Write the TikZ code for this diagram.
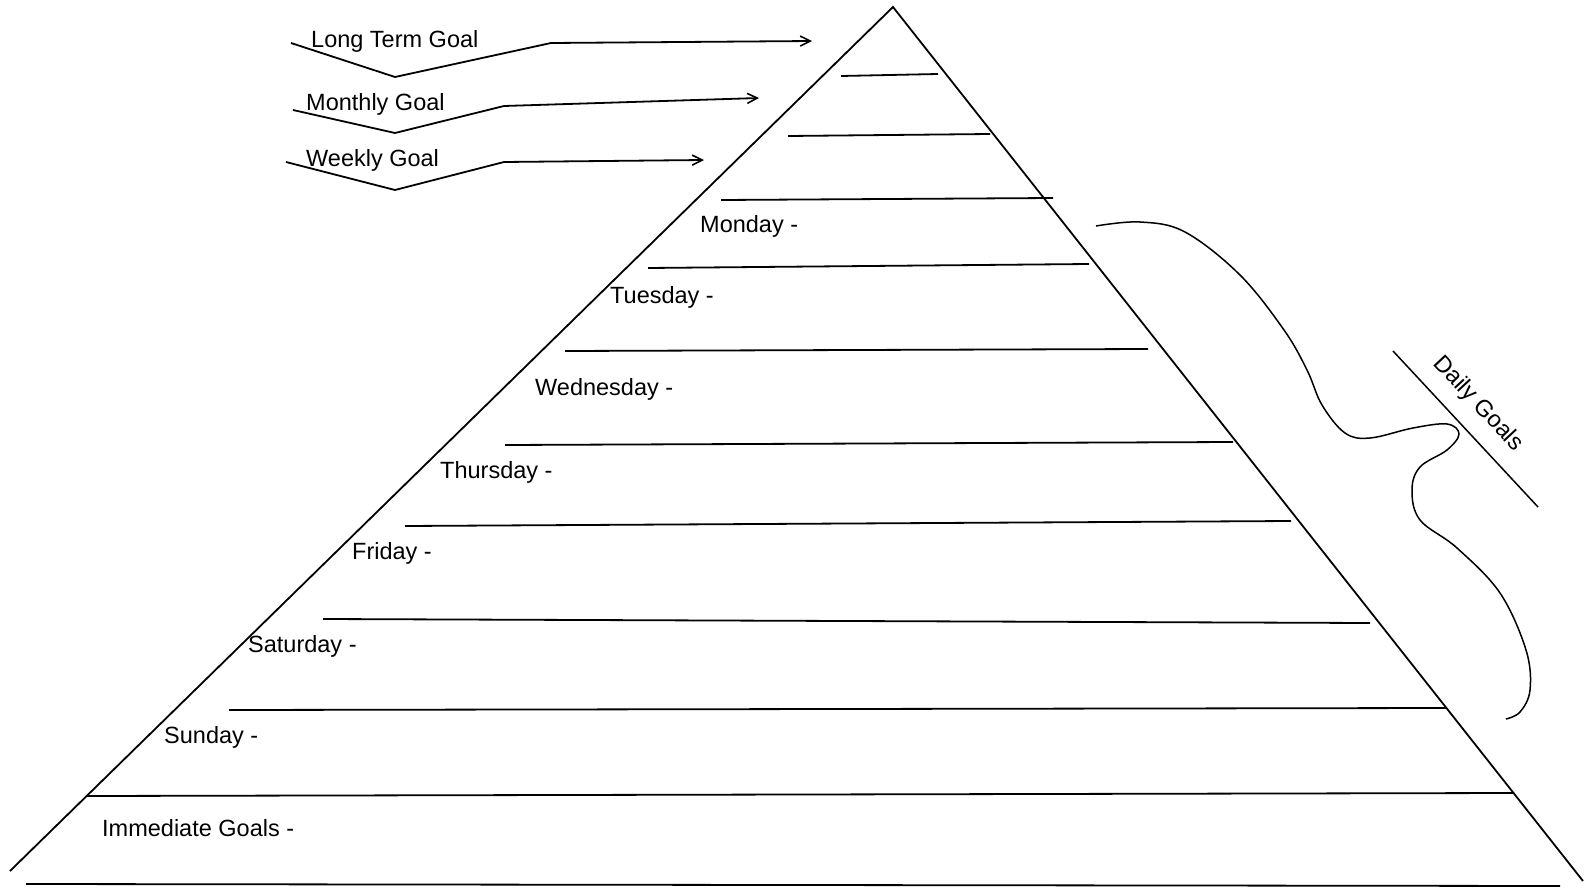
\documentclass[tikz,border=0pt]{standalone}
\usepackage{fontspec}
\setmainfont{Liberation Sans}
\usetikzlibrary{arrows.meta}
\begin{document}
\begin{tikzpicture}[x=1pt,y=-1pt,
  ln/.style={line width=1.8pt,black},
  lbl/.style={anchor=west,inner sep=0pt,font=\fontsize{23.5}{28}\selectfont},
  goalarrow/.style={ln,-{Straight Barb[length=10pt,width=10pt,line width=1.6pt]}}]
\useasboundingbox (0,0) rectangle (1591,888);
% pyramid sides
\coordinate (apex) at (893,7);
\coordinate (bl) at (10,871);
\coordinate (br) at (1583,881);
\draw[ln] (bl) -- (apex) -- (br);
% horizontal lines
\draw[ln] (841,76) -- (938,74);
\draw[ln] (788,136) -- (990,134);
\draw[ln] (721,200) -- (1053,198);
\draw[ln] (648,268) -- (1089,264);
\draw[ln] (565,351) -- (1148,349);
\draw[ln] (505,445) -- (1233,442);
\draw[ln] (405,526) -- (1291,521);
\draw[ln] (323,619) -- (1370,623);
\draw[ln] (229,710) -- (1446,708);
\draw[ln] (86,796) -- (1514,793);
\draw[ln] (26,884) -- (1560,886);
% labels
\node[lbl] (mon) at (700,226) {Monday -};
\node[lbl] (tue) at (610,297) {Tuesday -};
\node[lbl] (wed) at (535,389) {Wednesday -};
\node[lbl] (thu) at (440,472) {Thursday -};
\node[lbl] (fri) at (352,553) {Friday -};
\node[lbl] (sat) at (248,646) {Saturday -};
\node[lbl] (sun) at (164,737) {Sunday -};
\node[lbl] (imm) at (102,828) {Immediate Goals -};
% goal arrows
\node[lbl] (ltg) at (311,41) {Long Term Goal};
\node[lbl] (mg) at (306,104) {Monthly Goal};
\node[lbl] (wg) at (306,160) {Weekly Goal};
\coordinate (ltgtip) at (812,41);
\coordinate (mgtip) at (759,98);
\coordinate (wgtip) at (704,160);
\draw[goalarrow] (291,43) -- (395,77) -- (551,43) -- (ltgtip);
\draw[goalarrow] (293,110) -- (395,133) -- (504,106) -- (mgtip);
\draw[goalarrow] (286,162) -- (395,190) -- (504,162) -- (wgtip);
% curly brace
\draw[line width=1.5pt] plot[smooth,tension=0.6] coordinates {
 (1096,226) (1140,222) (1185,232) (1240,275) (1284,330) (1307,370)
 (1322,405) (1345,433) (1370,438) (1413,428) (1447,424) (1459,434)
 (1447,450) (1420,467) (1412,490) (1420,520) (1457,548) (1500,593)
 (1526,650) (1530,690) (1520,712) (1506,719)};
% daily goals
\coordinate (dga) at (1393,351);
\coordinate (dgb) at (1538,507);
\draw[line width=1.5pt] (dga) -- (dgb);
\node[inner sep=0pt,rotate=-47,font=\fontsize{23.5}{28}\selectfont] (dg) at (1478,404) {Daily Goals};
\end{tikzpicture}
\end{document}
